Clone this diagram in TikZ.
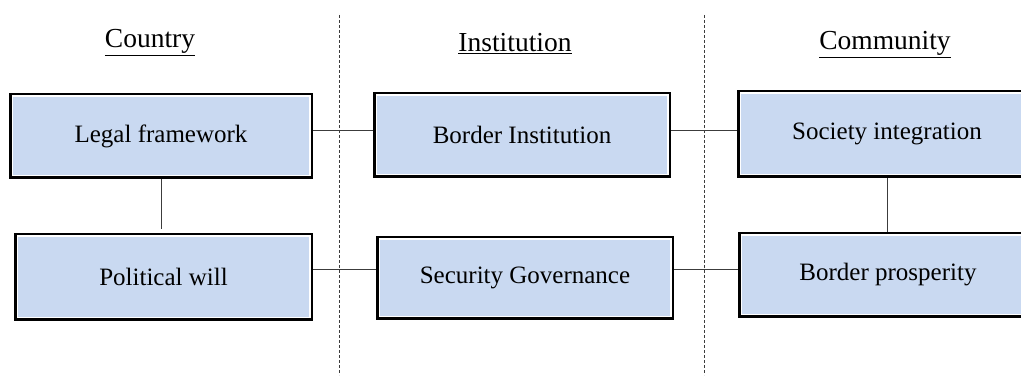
\documentclass[tikz,border=0pt]{standalone}
\usepackage{fontspec}
\setmainfont{Liberation Serif}
\definecolor{boxblue}{RGB}{201,217,241}
\definecolor{linkgray}{RGB}{60,60,60}
\tikzset{
  block/.style={draw=black, line width=2.5pt, fill=boxblue, inner sep=0pt,
    font=\fontsize{25}{30}\selectfont,
    path picture={\draw[white, line width=1.5pt]
      ([shift={(2pt,-2pt)}]path picture bounding box.north west) rectangle
      ([shift={(-2pt,2pt)}]path picture bounding box.south east);}},
  head/.style={anchor=base, inner sep=0pt, font=\fontsize{27.5}{33}\selectfont},
  link/.style={draw=linkgray, line width=1pt},
  divider/.style={draw=linkgray, line width=1pt, dash pattern=on 3pt off 2pt}
}
\begin{document}
\begin{tikzpicture}[x=1pt,y=-1pt]
  \useasboundingbox (0,0) rectangle (1021,379);
  \pgfmathsetmacro{\ytop}{15}
  \pgfmathsetmacro{\ybot}{375}

  % Column dividers.
  \draw[divider] (339,\ytop) -- (339,\ybot);
  \draw[divider] (704,\ytop) -- (704,\ybot);

  % Column headings.
  \node[head] (country) at (150,48) {\underline{Country}};
  \node[head] (institution) at (515,52) {\underline{Institution}};
  \node[head] (community) at (885,50) {\underline{Community}};

  % Boxes.
  \node[block, minimum width=301.5pt, minimum height=83.5pt] (legal) at (161,136) {Legal framework};
  \node[block, minimum width=296.5pt, minimum height=85.5pt] (political) at (163.5,277) {Political will};
  \node[block, minimum width=295.5pt, minimum height=83.5pt] (border) at (522,135) {Border Institution};
  \node[block, minimum width=295.5pt, minimum height=81.5pt] (security) at (525,278) {Security Governance};
  \node[block, minimum width=297.5pt, minimum height=85.5pt] (society) at (887,134) {Society integration};
  \node[block, minimum width=297.5pt, minimum height=83.5pt] (prosperity) at (888,275) {Border prosperity};

  % Links.
  \draw[link] ([yshift=5pt]legal.east) -- ([yshift=5pt]legal.east -| border.west);
  \draw[link] ([yshift=4pt]border.east) -- ([yshift=4pt]border.east -| society.west);
  \draw[link] (legal.south) -- ([yshift=4pt]legal.south |- political.north);
  \draw[link] (society.south) -- (society.south |- prosperity.north);
  \draw[link] ([yshift=7pt]political.east) -- ([yshift=7pt]political.east -| security.west);
  \draw[link] ([yshift=8pt]security.east) -- ([yshift=8pt]security.east -| prosperity.west);
\end{tikzpicture}
\end{document}
